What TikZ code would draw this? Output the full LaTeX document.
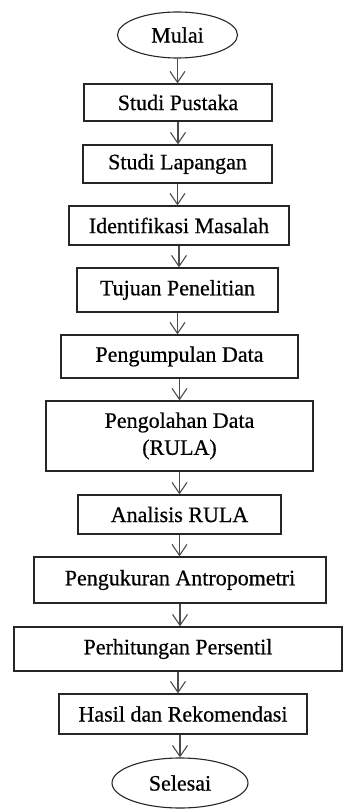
\documentclass[tikz,border=0pt]{standalone}
\usepackage{fontspec}
\setmainfont{Liberation Serif}[FakeBold=0.6]
\usetikzlibrary{arrows.meta,shapes.geometric}
\begin{document}
\begin{tikzpicture}[x=1pt,y=-1pt,
  font=\fontsize{22}{27}\selectfont,
  boxnode/.style={draw=black!85, line width=1.3pt, rectangle, inner sep=0pt, align=center},
  termnode/.style={draw=black!85, line width=1.1pt, ellipse, inner sep=0pt},
  arr/.style={draw=black!70, line width=1.1pt, -{Straight Barb[length=11pt,width=15pt]}}]
\useasboundingbox (0,0) rectangle (343,810);
\node[termnode, minimum width=120pt, minimum height=46pt] (mulai) at (177.5,35) {Mulai};
\node[boxnode, minimum width=188pt, minimum height=37pt] (sp) at (178,102.5) {Studi Pustaka};
\node[boxnode, minimum width=189pt, minimum height=38pt] (sl) at (177.5,164) {Studi Lapangan};
\node[boxnode, minimum width=220pt, minimum height=39pt] (im) at (179,225.5) {Identifikasi Masalah};
\node[boxnode, minimum width=201pt, minimum height=44pt] (tp) at (177.5,290) {Tujuan Penelitian};
\node[boxnode, minimum width=237pt, minimum height=43pt] (pd) at (179.5,356.5) {Pengumpulan Data};
\node[boxnode, minimum width=267pt, minimum height=70pt] (po) at (179.5,436) {Pengolahan Data\\(RULA)};
\node[boxnode, minimum width=203pt, minimum height=39pt] (ar) at (179.5,514.5) {Analisis RULA};
\node[boxnode, minimum width=292pt, minimum height=46pt] (pa) at (180,580) {Pengukuran Antropometri};
\node[boxnode, minimum width=328pt, minimum height=44pt] (pp) at (178,649) {Perhitungan Persentil};
\node[boxnode, minimum width=248pt, minimum height=40pt] (hr) at (183,714) {Hasil dan Rekomendasi};
\node[termnode, minimum width=136pt, minimum height=50pt] (selesai) at (180,783) {Selesai};
\foreach \a/\b in {mulai/sp, sp/sl, sl/im, im/tp, tp/pd, pd/po, po/ar, ar/pa, pa/pp, pp/hr}
  \draw[arr] (\a.south) -- (\a.south |- \b.north);
\draw[arr] (hr.south -| selesai.north) -- (selesai.north);
\end{tikzpicture}
\end{document}
